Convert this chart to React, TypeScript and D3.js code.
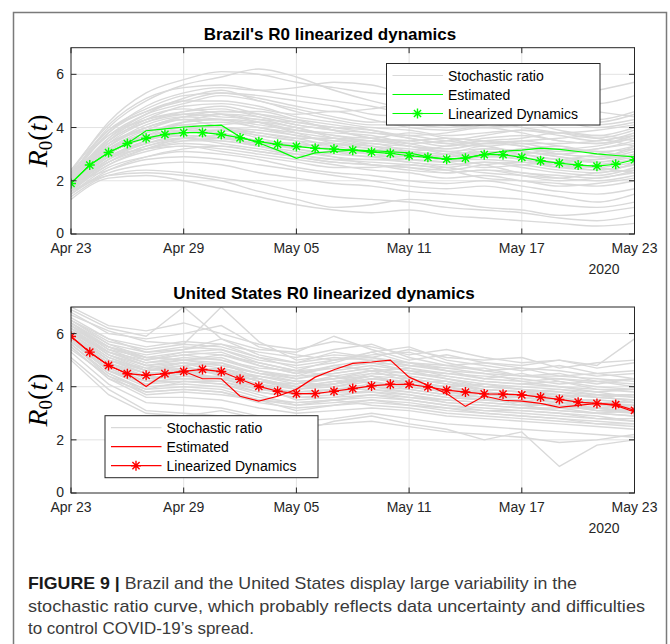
import React from 'react';
import * as d3 from 'd3';

// ---------- DATA ----------
const startDate = new Date(2020, 3, 23);
const xTickDays = [0, 6, 12, 18, 24, 30];
const xTickLabels = ['Apr 23', 'Apr 29', 'May 05', 'May 11', 'May 17', 'May 23'];
const yearLabel = '2020';
const yTicks = [0, 2, 4, 6];
const stochDays = [0, 2, 4, 6, 8, 10, 12, 14, 16, 18, 20, 22, 24, 26, 28, 30];

const brazilLinearized = [1.90, 2.59, 3.06, 3.40, 3.60, 3.74, 3.81, 3.81, 3.74, 3.61, 3.47, 3.37, 3.29, 3.22, 3.19, 3.15,
  3.08, 3.03, 2.94, 2.88, 2.81, 2.85, 2.98, 2.98, 2.88, 2.75, 2.66, 2.59, 2.55, 2.62, 2.79];
const brazilEstimated = [1.90, 2.59, 3.06, 3.40, 3.88, 3.95, 4.02, 4.06, 4.09, 3.65, 3.42, 3.15, 2.84, 3.05, 3.10, 3.15,
  3.13, 3.09, 3.05, 2.90, 2.81, 2.86, 2.99, 3.11, 3.15, 3.23, 3.18, 3.10, 3.01, 2.95, 2.90];

const usLinearized = [5.89, 5.30, 4.80, 4.49, 4.43, 4.49, 4.58, 4.65, 4.57, 4.28, 4.01, 3.83, 3.74, 3.74, 3.83, 3.93,
  4.03, 4.09, 4.09, 3.99, 3.87, 3.80, 3.73, 3.72, 3.69, 3.61, 3.52, 3.42, 3.37, 3.33, 3.11];
const usEstimated = [5.89, 5.30, 4.80, 4.49, 4.01, 4.49, 4.58, 4.30, 4.30, 3.64, 3.46, 3.64, 3.90, 4.36, 4.64, 4.88,
  4.93, 5.00, 4.36, 4.05, 3.74, 3.26, 3.65, 3.49, 3.46, 3.37, 3.22, 3.30, 3.37, 3.30, 3.05];

const brazilStochastic = [
  [2.3, 4.2, 5.3, 5.8, 6.1, 6.0, 5.7, 5.5, 5.3, 5.2, 5.0, 5.1, 5.3, 5.0, 4.9, 5.2],
  [2.2, 4.0, 5.0, 5.6, 5.9, 6.2, 5.9, 5.4, 5.0, 4.7, 4.6, 4.9, 4.8, 4.5, 4.3, 4.6],
  [2.1, 3.8, 4.8, 5.3, 5.5, 5.4, 5.5, 5.7, 5.6, 5.3, 5.4, 5.6, 5.5, 5.2, 5.4, 5.7],
  [2.4, 3.9, 4.6, 5.0, 5.3, 5.1, 4.8, 4.6, 4.7, 4.9, 4.6, 4.4, 4.5, 4.8, 4.6, 4.4],
  [2.0, 3.6, 4.5, 5.1, 5.4, 5.0, 4.7, 4.4, 4.2, 4.3, 4.1, 4.0, 4.2, 3.9, 3.7, 4.0],
  [2.2, 3.5, 4.3, 4.8, 4.9, 4.7, 4.5, 4.6, 4.3, 4.0, 3.9, 4.1, 4.3, 4.4, 4.2, 4.5],
  [1.9, 3.4, 4.2, 4.6, 4.8, 4.5, 4.2, 4.0, 3.9, 3.7, 3.8, 4.0, 3.8, 3.5, 3.4, 3.7],
  [2.1, 3.3, 4.0, 4.4, 4.6, 4.6, 4.3, 3.9, 3.6, 3.5, 3.3, 3.5, 3.6, 3.8, 3.6, 3.3],
  [1.8, 3.2, 3.9, 4.3, 4.3, 4.1, 3.9, 3.8, 3.7, 3.4, 3.2, 3.4, 3.3, 3.0, 2.9, 3.2],
  [2.0, 3.1, 3.8, 4.1, 4.2, 4.0, 3.7, 3.5, 3.3, 3.2, 3.1, 3.2, 3.1, 2.9, 2.7, 3.0],
  [1.7, 3.0, 3.6, 4.0, 4.0, 3.8, 3.6, 3.6, 3.5, 3.3, 3.0, 2.9, 3.0, 3.2, 3.1, 2.9],
  [1.9, 2.9, 3.5, 3.8, 3.9, 3.6, 3.3, 3.2, 3.0, 2.8, 2.7, 2.9, 2.8, 2.5, 2.4, 2.6],
  [1.6, 2.8, 3.4, 3.7, 3.6, 3.4, 3.2, 3.0, 2.9, 2.7, 2.6, 2.7, 2.5, 2.3, 2.2, 2.5],
  [1.8, 2.7, 3.3, 3.5, 3.5, 3.3, 3.1, 2.9, 2.8, 2.8, 2.7, 2.5, 2.6, 2.7, 2.5, 2.3],
  [2.0, 2.9, 3.2, 3.4, 3.3, 3.1, 2.9, 2.7, 2.6, 2.4, 2.3, 2.4, 2.3, 2.1, 2.0, 2.2],
  [1.7, 2.6, 3.1, 3.3, 3.2, 3.0, 2.8, 2.6, 2.4, 2.3, 2.1, 2.2, 2.0, 1.9, 1.8, 2.0],
  [1.5, 2.5, 2.9, 3.1, 3.0, 2.8, 2.5, 2.3, 2.2, 2.0, 1.9, 2.0, 1.8, 1.6, 1.5, 1.7],
  [1.9, 2.4, 2.8, 2.9, 2.8, 2.6, 2.4, 2.2, 2.0, 1.8, 1.7, 1.8, 1.6, 1.4, 1.2, 1.5],
  [1.6, 2.3, 2.6, 2.7, 2.6, 2.3, 2.1, 1.9, 1.8, 1.6, 1.5, 1.4, 1.3, 1.1, 1.0, 1.2],
  [1.4, 2.2, 2.4, 2.3, 2.1, 1.9, 1.6, 1.4, 1.3, 1.2, 1.0, 0.9, 0.8, 0.6, 0.5, 0.7],
  [1.3, 2.1, 2.2, 2.0, 1.7, 1.4, 1.1, 0.9, 0.8, 0.9, 0.7, 0.6, 0.5, 0.4, 0.3, 0.4],
  [1.5, 2.2, 2.3, 2.2, 2.0, 1.6, 1.3, 1.0, 1.1, 1.3, 1.2, 1.0, 0.9, 0.7, 0.8, 1.0],
  [1.9, 3.5, 4.4, 4.7, 4.5, 4.2, 3.8, 3.4, 3.2, 3.1, 3.3, 3.5, 3.4, 3.2, 3.3, 3.6],
  [2.3, 3.7, 4.3, 4.5, 4.4, 4.3, 4.0, 3.7, 3.6, 3.8, 3.6, 3.3, 3.1, 3.0, 3.2, 3.4],
  [1.8, 3.0, 3.7, 4.2, 4.5, 4.4, 4.1, 3.9, 3.6, 3.4, 3.5, 3.7, 3.9, 3.7, 3.5, 3.8],
  [2.1, 3.2, 3.6, 3.9, 4.1, 4.2, 4.0, 3.6, 3.3, 3.0, 2.8, 3.0, 3.2, 3.3, 3.0, 2.8],
  [1.7, 2.8, 3.5, 3.9, 3.8, 3.5, 3.4, 3.3, 3.4, 3.1, 2.9, 3.1, 2.9, 2.7, 2.8, 3.1],
  [2.0, 3.3, 3.9, 4.0, 3.7, 3.3, 3.0, 2.8, 2.7, 2.6, 2.5, 2.7, 2.6, 2.4, 2.3, 2.7],
  [1.6, 2.6, 3.2, 3.6, 3.7, 3.5, 3.2, 2.9, 2.6, 2.5, 2.4, 2.6, 2.7, 2.5, 2.6, 2.8],
  [2.2, 3.4, 4.0, 4.3, 4.0, 3.7, 3.5, 3.1, 2.9, 2.9, 3.0, 3.3, 3.0, 2.8, 3.0, 3.3],
  [1.8, 2.9, 3.4, 3.6, 3.4, 3.2, 3.0, 3.1, 3.0, 2.9, 2.8, 2.6, 2.3, 2.2, 2.1, 2.4],
  [2.4, 4.1, 5.1, 5.5, 5.6, 5.4, 5.2, 5.0, 4.8, 4.5, 4.3, 4.5, 4.7, 4.4, 4.1, 4.3],
  [1.9, 3.1, 3.7, 3.9, 3.9, 3.7, 3.5, 3.4, 3.3, 3.1, 3.0, 3.1, 3.0, 2.8, 2.7, 2.9],
  [2.0, 3.3, 4.1, 4.4, 4.3, 4.0, 3.8, 3.6, 3.4, 3.3, 3.2, 3.4, 3.5, 3.3, 3.1, 3.2],
  [1.7, 2.9, 3.5, 3.8, 3.9, 3.8, 3.6, 3.3, 3.1, 3.0, 2.9, 3.0, 2.8, 2.6, 2.5, 2.7],
  [2.1, 3.6, 4.3, 4.6, 4.7, 4.4, 4.1, 3.9, 3.8, 3.6, 3.4, 3.6, 3.7, 3.5, 3.4, 3.6],
  [1.8, 2.7, 3.2, 3.5, 3.6, 3.5, 3.3, 3.2, 3.1, 3.0, 2.8, 2.8, 2.7, 2.6, 2.4, 2.6],
  [2.2, 3.8, 4.6, 5.0, 5.0, 4.8, 4.4, 4.2, 4.0, 3.9, 3.7, 3.8, 3.9, 3.8, 3.9, 4.1],
  [1.6, 2.7, 3.3, 3.6, 3.5, 3.3, 3.0, 2.8, 2.8, 2.7, 2.5, 2.3, 2.2, 2.1, 2.3, 2.4],
  [2.0, 3.2, 3.8, 4.2, 4.3, 4.2, 3.9, 3.7, 3.5, 3.5, 3.6, 3.5, 3.3, 3.1, 3.2, 3.5],
  [1.9, 3.0, 3.6, 3.7, 3.6, 3.4, 3.3, 3.4, 3.2, 3.0, 2.9, 3.2, 3.1, 2.9, 2.8, 3.0],
  [2.3, 3.7, 4.5, 4.9, 5.2, 5.0, 4.6, 4.3, 4.1, 4.1, 4.0, 4.2, 4.0, 3.8, 3.6, 3.9],
  [1.7, 2.8, 3.2, 3.3, 3.1, 2.9, 2.7, 2.5, 2.5, 2.6, 2.4, 2.1, 2.0, 1.8, 1.9, 2.1],
  [2.1, 3.4, 4.0, 4.4, 4.5, 4.3, 4.2, 4.0, 3.8, 3.7, 3.5, 3.4, 3.5, 3.6, 3.7, 3.5],
  [1.8, 3.1, 3.8, 4.1, 4.0, 3.9, 3.7, 3.5, 3.5, 3.3, 3.1, 3.0, 3.2, 3.0, 2.9, 3.3],
  [2.0, 3.5, 4.2, 4.5, 4.6, 4.5, 4.3, 4.1, 3.9, 3.6, 3.4, 3.3, 3.4, 3.4, 3.5, 3.7],
  [1.5, 2.4, 2.9, 3.2, 3.3, 3.1, 2.9, 2.7, 2.6, 2.5, 2.3, 2.4, 2.2, 2.0, 2.1, 2.3],
  [2.2, 3.9, 4.7, 5.2, 5.3, 5.2, 5.0, 4.8, 4.5, 4.4, 4.2, 4.0, 4.1, 4.2, 4.0, 4.2],
];

const usStochastic = [
  [7.0, 6.3, 6.1, 6.4, 6.0, 5.6, 5.4, 5.7, 5.5, 5.2, 5.4, 5.1, 4.9, 5.0, 4.7, 4.9],
  [6.8, 6.0, 5.8, 6.0, 6.3, 5.5, 5.2, 5.0, 5.3, 5.5, 5.0, 4.8, 4.6, 4.8, 4.5, 4.3],
  [6.6, 5.8, 5.5, 5.7, 5.6, 5.3, 5.1, 5.4, 5.6, 5.1, 4.8, 4.9, 4.7, 4.4, 4.5, 4.6],
  [6.5, 5.6, 5.3, 5.5, 5.4, 5.0, 4.8, 5.0, 5.2, 5.3, 4.9, 4.6, 4.4, 4.5, 4.2, 4.1],
  [6.4, 5.5, 5.0, 5.3, 5.2, 4.8, 4.5, 4.7, 4.9, 4.8, 4.6, 4.3, 4.5, 4.2, 4.0, 3.9],
  [6.3, 5.4, 4.9, 5.0, 5.1, 4.6, 4.3, 4.6, 4.8, 4.6, 4.3, 4.1, 4.0, 3.9, 3.8, 3.6],
  [6.2, 5.2, 4.8, 4.9, 4.7, 4.4, 4.2, 4.3, 4.5, 4.4, 4.2, 4.0, 3.9, 3.7, 3.6, 3.5],
  [6.1, 5.1, 4.6, 4.8, 4.9, 4.3, 4.0, 4.1, 4.3, 4.2, 4.0, 3.8, 3.7, 3.6, 3.4, 3.3],
  [6.0, 5.0, 4.5, 4.6, 4.5, 4.1, 3.9, 4.0, 4.2, 4.0, 3.8, 3.7, 3.6, 3.4, 3.3, 3.2],
  [5.9, 4.9, 4.3, 4.4, 4.4, 4.0, 3.7, 3.8, 4.0, 3.9, 3.7, 3.5, 3.4, 3.3, 3.1, 3.0],
  [5.8, 4.8, 4.2, 4.3, 4.2, 3.8, 3.6, 3.7, 3.8, 3.7, 3.5, 3.4, 3.3, 3.1, 3.0, 2.9],
  [5.7, 4.6, 4.0, 4.1, 4.0, 3.6, 3.4, 3.5, 3.6, 3.5, 3.3, 3.2, 3.1, 3.0, 2.9, 2.7],
  [5.6, 4.5, 3.8, 3.9, 3.8, 3.4, 3.2, 3.3, 3.5, 3.3, 3.2, 3.0, 2.9, 2.8, 2.7, 2.6],
  [5.5, 4.3, 3.6, 3.6, 3.5, 3.2, 3.0, 3.1, 3.2, 3.1, 2.9, 2.8, 2.7, 2.6, 2.5, 2.4],
  [5.3, 4.1, 3.4, 3.3, 3.2, 2.9, 2.7, 2.8, 3.0, 2.8, 2.6, 2.5, 2.4, 2.3, 2.2, 2.1],
  [5.1, 3.9, 3.1, 3.0, 2.9, 2.6, 2.5, 2.6, 2.7, 2.5, 2.3, 2.2, 2.1, 1.9, 2.0, 2.2],
  [5.0, 3.7, 3.0, 2.9, 3.1, 2.8, 2.3, 2.7, 2.9, 2.6, 2.4, 2.0, 2.3, 1.0, 1.8, 2.0],
  [6.9, 6.2, 5.9, 7.0, 5.8, 5.4, 5.3, 5.9, 5.4, 5.0, 5.2, 4.9, 4.8, 5.0, 4.8, 5.8],
  [6.7, 6.1, 5.7, 5.6, 7.0, 5.7, 5.0, 5.2, 5.1, 5.4, 5.1, 5.0, 5.1, 4.7, 4.9, 5.0],
  [6.2, 5.5, 5.2, 5.4, 5.6, 5.1, 4.7, 4.9, 5.3, 4.9, 4.6, 4.5, 4.2, 4.3, 4.1, 4.3],
  [6.0, 5.3, 5.0, 5.2, 5.0, 4.7, 4.6, 4.4, 4.6, 4.5, 4.4, 4.2, 4.1, 4.0, 3.8, 3.9],
  [5.9, 5.0, 4.7, 4.9, 4.8, 4.5, 4.3, 4.5, 4.7, 4.3, 4.1, 3.9, 3.8, 3.9, 3.7, 3.7],
  [6.1, 5.2, 4.7, 4.5, 4.6, 4.2, 4.0, 4.2, 4.4, 4.1, 3.9, 3.8, 3.6, 3.5, 3.5, 3.4],
  [5.8, 4.9, 4.4, 4.7, 4.6, 4.2, 4.1, 4.4, 4.1, 4.0, 3.8, 3.6, 3.5, 3.4, 3.2, 3.3],
  [6.3, 5.3, 4.8, 4.6, 4.3, 3.9, 3.8, 3.9, 3.9, 3.8, 3.6, 3.5, 3.5, 3.2, 3.2, 3.1],
  [5.7, 4.7, 4.1, 4.4, 4.3, 4.0, 3.5, 3.6, 3.7, 3.6, 3.4, 3.3, 3.2, 3.2, 3.0, 3.1],
  [6.4, 5.6, 5.1, 5.0, 4.9, 4.5, 4.4, 4.8, 5.0, 4.7, 4.5, 4.4, 4.3, 4.1, 4.2, 4.0],
  [5.6, 4.4, 3.9, 4.2, 4.1, 3.7, 3.3, 3.4, 3.5, 3.4, 3.2, 3.1, 3.0, 2.9, 2.8, 2.8],
  [6.5, 5.7, 5.4, 5.6, 5.5, 5.1, 4.9, 5.1, 5.0, 4.9, 4.8, 4.6, 4.7, 4.6, 4.4, 4.5],
  [5.4, 4.4, 3.7, 3.8, 3.7, 3.5, 3.3, 3.5, 3.3, 3.2, 3.0, 2.9, 2.8, 2.7, 2.6, 2.5],
  [6.0, 5.0, 4.6, 4.8, 4.4, 4.4, 4.2, 4.0, 4.3, 4.2, 4.0, 4.1, 3.9, 3.8, 3.7, 3.6],
  [5.8, 4.6, 4.2, 4.5, 4.7, 4.3, 3.9, 4.1, 4.5, 4.4, 4.2, 3.8, 3.7, 3.7, 3.4, 3.4],
  [6.0, 5.1, 4.6, 4.7, 4.6, 4.2, 4.0, 4.1, 4.3, 4.1, 3.9, 3.7, 3.6, 3.5, 3.3, 3.3],
  [6.2, 5.3, 4.9, 5.1, 5.0, 4.6, 4.4, 4.5, 4.7, 4.5, 4.3, 4.0, 3.9, 3.8, 3.6, 3.5],
  [5.8, 4.8, 4.3, 4.5, 4.3, 4.0, 3.8, 3.9, 4.0, 3.8, 3.6, 3.5, 3.4, 3.3, 3.2, 3.0],
  [6.4, 5.4, 5.1, 5.0, 5.2, 4.9, 4.6, 4.7, 4.9, 4.6, 4.5, 4.3, 4.2, 4.0, 3.9, 3.8],
  [5.9, 4.8, 4.4, 4.3, 4.4, 4.1, 3.7, 3.9, 4.1, 4.0, 3.8, 3.6, 3.3, 3.4, 3.1, 3.2],
  [6.1, 5.3, 4.8, 5.0, 4.8, 4.5, 4.2, 4.3, 4.4, 4.3, 4.1, 3.9, 3.8, 3.6, 3.7, 3.4],
  [5.7, 4.6, 4.1, 4.2, 4.1, 3.8, 3.6, 3.6, 3.9, 3.7, 3.4, 3.3, 3.2, 3.1, 3.0, 2.9],
  [6.3, 5.5, 5.0, 5.2, 5.3, 4.8, 4.5, 4.8, 4.6, 4.7, 4.4, 4.2, 4.1, 4.2, 3.9, 3.9],
  [6.0, 5.0, 4.5, 4.5, 4.3, 4.3, 4.0, 4.2, 4.2, 3.9, 3.7, 3.6, 3.6, 3.4, 3.4, 3.2],
  [5.6, 4.5, 3.9, 4.0, 3.9, 3.5, 3.4, 3.5, 3.7, 3.5, 3.3, 3.1, 3.1, 3.0, 2.8, 2.7],
  [6.5, 5.8, 5.3, 5.4, 5.8, 5.2, 4.9, 5.3, 5.1, 4.8, 4.7, 4.7, 4.4, 4.4, 4.3, 4.2],
  [5.9, 4.9, 4.5, 4.6, 4.7, 4.2, 3.9, 4.1, 4.4, 4.1, 4.0, 3.7, 3.7, 3.5, 3.5, 3.4],
  [6.2, 5.2, 4.6, 4.9, 4.5, 4.4, 4.1, 4.3, 4.6, 4.2, 4.2, 3.9, 3.8, 3.7, 3.6, 3.7],
  [5.8, 4.7, 4.2, 4.2, 4.2, 3.9, 3.7, 3.8, 3.8, 3.6, 3.5, 3.4, 3.3, 3.3, 3.1, 3.1],
  [6.3, 5.5, 5.1, 5.3, 5.4, 4.9, 4.6, 5.0, 5.1, 4.9, 4.7, 4.5, 4.4, 4.3, 4.2, 4.3],
  [5.5, 4.3, 3.8, 3.9, 3.8, 3.5, 3.1, 3.3, 3.4, 3.3, 3.1, 3.0, 2.9, 2.8, 2.6, 2.6],
];

const legendLabels = ['Stochastic ratio', 'Estimated', 'Linearized Dynamics'];
const captionBold = 'FIGURE 9 |';
const captionLines = [
  ' Brazil and the United States display large variability in the',
  'stochastic ratio curve, which probably reflects data uncertainty and difficulties',
  'to control COVID-19\u2019s spread.',
];

// ---------- STYLE ----------
const FONT = "'Liberation Sans', Arial, Helvetica, sans-serif";
const AX = '#262626';
const GRID = '#e3e3e3';
const STOCH = '#d9d9d9';
const X0 = 71;
const X1 = 634.5;

const day = (i: number) => d3.timeDay.offset(startDate, i);

function asterisk(r: number) {
  const k = r * 0.72;
  return `M${-r},0L${r},0M0,${-r}L0,${r}M${-k},${-k}L${k},${k}M${-k},${k}L${k},${-k}`;
}

type PanelProps = {
  id: string;
  top: number;
  bottom: number;
  title: string;
  titleX: number;
  titleY: number;
  stoch: number[][];
  est: number[];
  lin: number[];
  color: string;
  smooth: boolean;
  legend: { x: number; y: number; w: number; h: number };
};

function Panel(p: PanelProps) {
  const x = d3.scaleTime().domain([day(0), day(30)]).range([X0, X1]);
  const y = d3.scaleLinear().domain([0, 7]).range([p.bottom, p.top]);
  const lineDaily = d3
    .line<number>()
    .x((_, i) => x(day(i)))
    .y((v) => y(v));
  const lineStoch = d3
    .line<number>()
    .x((_, i) => x(day(stochDays[i])))
    .y((v) => y(v))
    .curve(p.smooth ? d3.curveMonotoneX : d3.curveLinear);
  const tickLen = 5.5;
  const mid = (p.top + p.bottom) / 2;
  const L = p.legend;
  const rowOff = [12, 31, 50];
  return (
    <g>
      <defs>
        <clipPath id={p.id}>
          <rect x={X0} y={p.top} width={X1 - X0} height={p.bottom - p.top} />
        </clipPath>
      </defs>
      <rect x={X0} y={p.top} width={X1 - X0} height={p.bottom - p.top} fill="#fff" />
      {xTickDays.slice(1, -1).map((d) => (
        <line key={'gx' + d} x1={x(day(d))} x2={x(day(d))} y1={p.top} y2={p.bottom} stroke={GRID} strokeWidth={1} />
      ))}
      {yTicks.slice(1).map((t) => (
        <line key={'gy' + t} x1={X0} x2={X1} y1={y(t)} y2={y(t)} stroke={GRID} strokeWidth={1} />
      ))}
      <g clipPath={`url(#${p.id})`}>
        {p.stoch.map((s, i) => (
          <path key={'s' + i} d={lineStoch(s) || ''} fill="none" stroke={STOCH} strokeWidth={1.4} />
        ))}
        <path d={lineDaily(p.est) || ''} fill="none" stroke={p.color} strokeWidth={1.2} />
        <path d={lineDaily(p.lin) || ''} fill="none" stroke={p.color} strokeWidth={1.2} />
        {p.lin.map((v, i) => (
          <path key={'m' + i} d={asterisk(5)} transform={`translate(${x(day(i))},${y(v)})`} stroke={p.color} strokeWidth={1.4} fill="none" />
        ))}
      </g>
      <rect x={X0} y={p.top} width={X1 - X0} height={p.bottom - p.top} fill="none" stroke={AX} strokeWidth={1} />
      {xTickDays.map((d, i) => (
        <g key={'xt' + d}>
          <line x1={x(day(d))} x2={x(day(d))} y1={p.bottom} y2={p.bottom - tickLen} stroke={AX} />
          <line x1={x(day(d))} x2={x(day(d))} y1={p.top} y2={p.top + tickLen} stroke={AX} />
          <text x={x(day(d))} y={p.bottom + 19} textAnchor="middle" fontFamily={FONT} fontSize={14} fill={AX}>
            {xTickLabels[i]}
          </text>
        </g>
      ))}
      <text x={604} y={p.bottom + 39.5} textAnchor="middle" fontFamily={FONT} fontSize={14} fill={AX}>
        {yearLabel}
      </text>
      {yTicks.map((t) => (
        <g key={'yt' + t}>
          <line x1={X0} x2={X0 + tickLen} y1={y(t)} y2={y(t)} stroke={AX} />
          <line x1={X1} x2={X1 - tickLen} y1={y(t)} y2={y(t)} stroke={AX} />
          <text x={64} y={y(t)} dy={t === 0 ? '0.3em' : '0.36em'} textAnchor="end" fontFamily={FONT} fontSize={14} fill={AX}>
            {t}
          </text>
        </g>
      ))}
      <text
        transform={`translate(47,${mid}) rotate(-90)`}
        textAnchor="middle"
        fontFamily="'Liberation Serif', 'Times New Roman', serif"
        fontSize={28}
        fill="#000"
      >
        <tspan fontStyle="italic">R</tspan>
        <tspan fontSize={19} dy={4.5}>0</tspan>
        <tspan dy={-4.5}>(</tspan>
        <tspan fontStyle="italic">t</tspan>
        <tspan>)</tspan>
      </text>
      <text x={p.titleX} y={p.titleY} textAnchor="middle" fontFamily={FONT} fontWeight="bold" fontSize={17} fill="#000">
        {p.title}
      </text>
      <rect x={L.x} y={L.y} width={L.w} height={L.h} fill="#fff" stroke={AX} strokeWidth={1} />
      {legendLabels.map((lab, i) => {
        const ry = L.y + rowOff[i];
        const stroke = i === 0 ? STOCH : p.color;
        return (
          <g key={'lg' + i}>
            <line x1={L.x + 6} x2={L.x + 56.5} y1={ry} y2={ry} stroke={stroke} strokeWidth={1.2} />
            {i === 2 && (
              <path d={asterisk(5)} transform={`translate(${L.x + 31},${ry})`} stroke={p.color} strokeWidth={1.4} fill="none" />
            )}
            <text x={L.x + 61.5} y={ry} dy="0.36em" fontFamily={FONT} fontSize={14} fill="#000">
              {lab}
            </text>
          </g>
        );
      })}
    </g>
  );
}

export default function App() {
  return (
    <svg
      width={670}
      height={644}
      viewBox="0 0 670 644"
      style={{ position: 'absolute', left: 0, top: 0, background: '#fff' }}
    >
      <rect x={0} y={0} width={670} height={644} fill="#fff" />
      <rect x={13.5} y={12.5} width={653} height={700} fill="none" stroke="#7a7a7a" strokeWidth={1.5} />
      <Panel
        id="clipBR"
        top={47.7}
        bottom={234}
        title={"Brazil's R0 linearized dynamics"}
        titleX={330}
        titleY={40}
        stoch={brazilStochastic}
        est={brazilEstimated}
        lin={brazilLinearized}
        color="#00ff00"
        smooth={true}
        legend={{ x: 386.5, y: 63.5, w: 213.5, h: 61.5 }}
      />
      <Panel
        id="clipUS"
        top={307}
        bottom={493}
        title="United States R0 linearized dynamics"
        titleX={324}
        titleY={299}
        stoch={usStochastic}
        est={usEstimated}
        lin={usLinearized}
        color="#ff0000"
        smooth={false}
        legend={{ x: 105, y: 415.7, w: 213, h: 62 }}
      />
      <text x={28} y={589} fontFamily={FONT} fontSize={17} fill="#3a3a3a" textLength={549} lengthAdjust="spacingAndGlyphs">
        <tspan fontWeight="bold" fill="#1a1a1a">{captionBold}</tspan>
        <tspan>{captionLines[0]}</tspan>
      </text>
      <text x={28} y={611.5} fontFamily={FONT} fontSize={17} fill="#3a3a3a" textLength={617} lengthAdjust="spacingAndGlyphs">
        {captionLines[1]}
      </text>
      <text x={28} y={633.5} fontFamily={FONT} fontSize={17} fill="#3a3a3a" textLength={226} lengthAdjust="spacingAndGlyphs">
        {captionLines[2]}
      </text>
    </svg>
  );
}
